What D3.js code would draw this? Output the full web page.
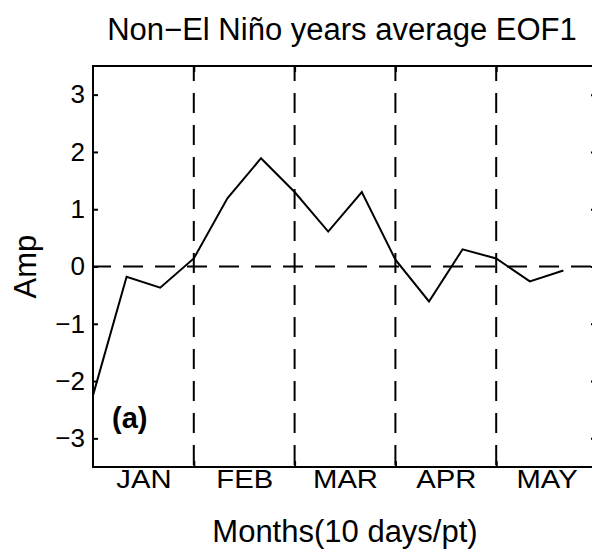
<!DOCTYPE html>
<html>
<head>
<meta charset="utf-8">
<script src="https://cdn.jsdelivr.net/npm/d3@7"></script>
<style>
  body { margin: 0; background: #fff; }
  svg { display: block; font-family: "Liberation Sans", Arial, Helvetica, sans-serif; }
</style>
</head>
<body>
<svg width="592" height="554"></svg>
<script>
// EOF1 amplitude, one point per 10 days (Jan 1 .. May 20)
var amp = [-2.25, -0.18, -0.37, 0.14, 1.19, 1.89, 1.3, 0.61, 1.3, 0.12, -0.61, 0.3, 0.14, -0.26, -0.07];
var months = ["JAN", "FEB", "MAR", "APR", "MAY"];
var yTicks = [-3, -2, -1, 0, 1, 2, 3];
var ptsPerMonth = 3;

var svg = d3.select("svg");
var plotL = 93, plotR = 597, plotT = 66, plotB = 467;

var x = d3.scaleLinear()
    .domain([0, months.length * ptsPerMonth])
    .range([plotL, plotR]);

var y = d3.scaleLinear()
    .domain([-3.5, 3.5])
    .range([plotB, plotT]);

// month dividers (dashed)
var dividers = d3.range(1, months.length).map(function(k) { return k * ptsPerMonth; });

svg.selectAll(".divider")
  .data(dividers)
  .enter().append("line")
    .attr("class", "divider")
    .attr("x1", function(d) { return x(d); })
    .attr("x2", function(d) { return x(d); })
    .attr("y1", plotT)
    .attr("y2", plotB)
    .attr("stroke", "#000")
    .attr("stroke-width", 2)
    .attr("stroke-dasharray", "20,12")
    .attr("stroke-dashoffset", 5);

// zero line
svg.append("line")
    .attr("x1", plotL)
    .attr("x2", plotR)
    .attr("y1", y(0))
    .attr("y2", y(0))
    .attr("stroke", "#000")
    .attr("stroke-width", 2)
    .attr("stroke-dasharray", "20,12")
    .attr("stroke-dashoffset", 2);

// axes (ticks pointing inward, like matlab)
svg.append("g")
    .attr("transform", "translate(0," + plotB + ")")
    .call(d3.axisBottom(x).tickValues(dividers).tickSize(-6).tickFormat(""));
svg.append("g")
    .attr("transform", "translate(0," + plotT + ")")
    .call(d3.axisTop(x).tickValues(dividers).tickSize(-6).tickFormat(""));

var monthAxis = d3.axisBottom(x)
    .tickValues(months.map(function(m, k) { return k * ptsPerMonth + ptsPerMonth / 2; }))
    .tickSize(0)
    .tickPadding(3)
    .tickFormat(function(d, k) { return months[k]; });
svg.append("g")
    .attr("class", "months")
    .attr("transform", "translate(0," + plotB + ")")
    .call(monthAxis);

svg.append("g")
    .attr("class", "yaxis")
    .attr("transform", "translate(" + plotL + ",0)")
    .call(d3.axisLeft(y).tickValues(yTicks).tickSize(-5).tickPadding(8).tickFormat(d3.format("d")));
svg.append("g")
    .attr("transform", "translate(" + plotR + ",0)")
    .call(d3.axisRight(y).tickValues(yTicks).tickSize(-6).tickFormat(""));

svg.selectAll(".domain").remove();
svg.selectAll(".tick line").attr("stroke", "#000").attr("stroke-width", 2);
// scanned lettering is a bit wider than the font
svg.selectAll(".months .tick text")
    .attr("font-size", 25)
    .attr("fill", "#000")
    .attr("transform", "scale(1.17,1)");
svg.selectAll(".yaxis .tick text").attr("font-size", 26).attr("fill", "#000");

// box
svg.append("rect")
    .attr("x", plotL)
    .attr("y", plotT)
    .attr("width", plotR - plotL)
    .attr("height", plotB - plotT)
    .attr("fill", "none")
    .attr("stroke", "#000")
    .attr("stroke-width", 2);

// data line
var line = d3.line()
    .x(function(d, i) { return x(i); })
    .y(function(d) { return y(d); });

svg.append("path")
    .datum(amp)
    .attr("d", line)
    .attr("fill", "none")
    .attr("stroke", "#000")
    .attr("stroke-width", 2)
    .attr("stroke-linejoin", "miter");

// labels
svg.append("text")
    .attr("x", (plotL + plotR) / 2 - 3)
    .attr("y", 40)
    .attr("text-anchor", "middle")
    .attr("font-size", 31)
    .text("Non\u2212El Niño years average EOF1");

svg.append("text")
    .attr("x", (plotL + plotR) / 2)
    .attr("y", 542)
    .attr("text-anchor", "middle")
    .attr("font-size", 31)
    .text("Months(10 days/pt)");

svg.append("text")
    .attr("transform", "translate(36," + y(0) + ") rotate(-90)")
    .attr("text-anchor", "middle")
    .attr("font-size", 31)
    .text("Amp");

svg.append("text")
    .attr("x", 112)
    .attr("y", 428)
    .attr("font-size", 29)
    .attr("font-weight", "bold")
    .text("(a)");
</script>
</body>
</html>
